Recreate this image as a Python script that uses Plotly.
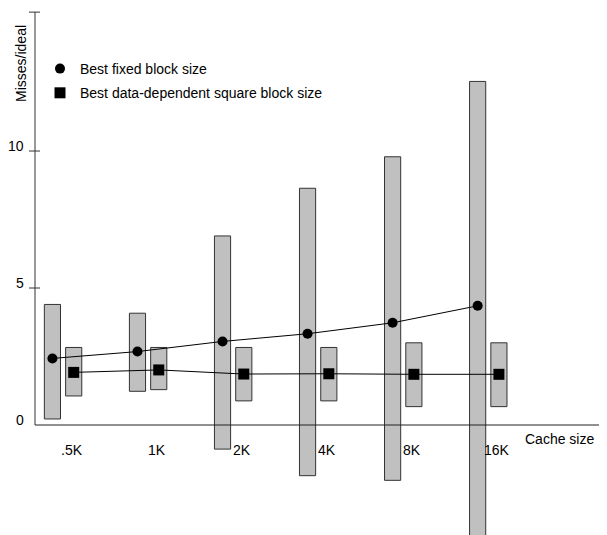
import plotly.graph_objects as go

categories = [".5K", "1K", "2K", "4K", "8K", "16K"]
fixed_low = [0.22, 1.23, -0.88, -1.85, -2.02, -4.3]
fixed_high = [4.40, 4.08, 6.90, 8.64, 9.79, 12.54]
fixed_best = [2.43, 2.68, 3.05, 3.33, 3.73, 4.35]
square_low = [1.06, 1.29, 0.88, 0.88, 0.67, 0.67]
square_high = [2.83, 2.83, 2.83, 2.83, 3.00, 3.00]
square_best = [1.92, 2.01, 1.86, 1.87, 1.85, 1.85]
y_ticks = [0, 5, 10]
y_top = 15.07

idx = list(range(len(categories)))
x_fixed = [i - 0.125 for i in idx]
x_square = [i + 0.125 for i in idx]

FONT = "Liberation Sans, Arial, sans-serif"
FS = 14
BAR_FILL = "#c0c0c0"
BAR_LINE = "#333333"

# page is rendered with an 8px body margin; figure coordinates = page - 8
W, H = 599, 527
L = 27
PW = W - L
PH = H

fig = go.Figure()
fig.add_trace(go.Bar(x=x_fixed, base=fixed_low,
                     y=[h - l for h, l in zip(fixed_high, fixed_low)],
                     width=0.19, marker=dict(color=BAR_FILL, line=dict(color=BAR_LINE, width=1)),
                     showlegend=False, hoverinfo="skip"))
fig.add_trace(go.Bar(x=x_square, base=square_low,
                     y=[h - l for h, l in zip(square_high, square_low)],
                     width=0.19, marker=dict(color=BAR_FILL, line=dict(color=BAR_LINE, width=1)),
                     showlegend=False, hoverinfo="skip"))
fig.add_trace(go.Scatter(x=x_fixed, y=fixed_best, mode="lines",
                         line=dict(color="black", width=1), showlegend=False, hoverinfo="skip"))
fig.add_trace(go.Scatter(x=x_square, y=square_best, mode="lines",
                         line=dict(color="black", width=1), showlegend=False, hoverinfo="skip"))
fig.add_trace(go.Scatter(x=x_fixed, y=fixed_best, mode="markers",
                         marker=dict(symbol="circle", size=10, color="black"),
                         name="Best fixed block size", legendgroup="a"))
fig.add_trace(go.Scatter(x=x_square, y=square_best, mode="markers",
                         marker=dict(symbol="square", size=11, color="black"),
                         name="Best data-dependent square block size", legendgroup="b"))

shapes = []
shapes.append(dict(type="line", xref="paper", yref="y", x0=0, x1=0, y0=0, y1=y_top,
                   line=dict(color="#333333", width=1)))
shapes.append(dict(type="line", xref="paper", yref="y", x0=0, x1=1, y0=0, y1=0,
                   line=dict(color="#222222", width=1)))
for v in [t for t in y_ticks if t > 0] + [y_top]:
    shapes.append(dict(type="line", xref="paper", yref="y", x0=-6 / PW, x1=5 / PW, y0=v, y1=v,
                       line=dict(color="#333333", width=1)))

annotations = []
for t in y_ticks:
    annotations.append(dict(xref="paper", yref="y", x=0, y=t, text=str(t), showarrow=False,
                            xanchor="right", yanchor="middle", xshift=-9, yshift=5,
                            font=dict(family=FONT, size=FS, color="black")))
for i, c in zip(idx, categories):
    annotations.append(dict(xref="x", yref="y", x=i + 0.1, y=0, text=c, showarrow=False,
                            xanchor="center", yanchor="middle", yshift=-25,
                            font=dict(family=FONT, size=FS, color="black")))
annotations.append(dict(xref="paper", yref="y", x=(559.5 - 35) / PW, y=0, text="Cache size",
                        showarrow=False, xanchor="center", yanchor="middle", yshift=-14,
                        font=dict(family=FONT, size=FS, color="black")))
annotations.append(dict(xref="paper", yref="paper", x=0, y=1 - (64 - 8) / PH, text="Misses/ideal",
                        showarrow=False, textangle=-90, xanchor="center", yanchor="middle",
                        xshift=-14, font=dict(family=FONT, size=FS, color="black")))

fig.update_layout(
    width=W, height=H,
    margin=dict(l=L, r=0, t=0, b=0),
    paper_bgcolor="white", plot_bgcolor="white",
    barmode="overlay",
    font=dict(family=FONT, size=FS, color="black"),
    xaxis=dict(range=[-0.330, 6.396], showgrid=False, zeroline=False, showline=False,
               showticklabels=False, ticks=""),
    yaxis=dict(range=[-4.015, 15.22], showgrid=False, zeroline=False, showline=False,
               showticklabels=False, ticks=""),
    shapes=shapes, annotations=annotations,
    showlegend=True,
    legend=dict(x=(40 - 35) / PW, y=1 - (53 - 8) / PH, xanchor="left", yanchor="top",
                bgcolor="rgba(0,0,0,0)", itemwidth=30, traceorder="grouped",
                tracegroupgap=3, font=dict(family=FONT, size=FS, color="black")),
)

fig.write_html("out.html")
